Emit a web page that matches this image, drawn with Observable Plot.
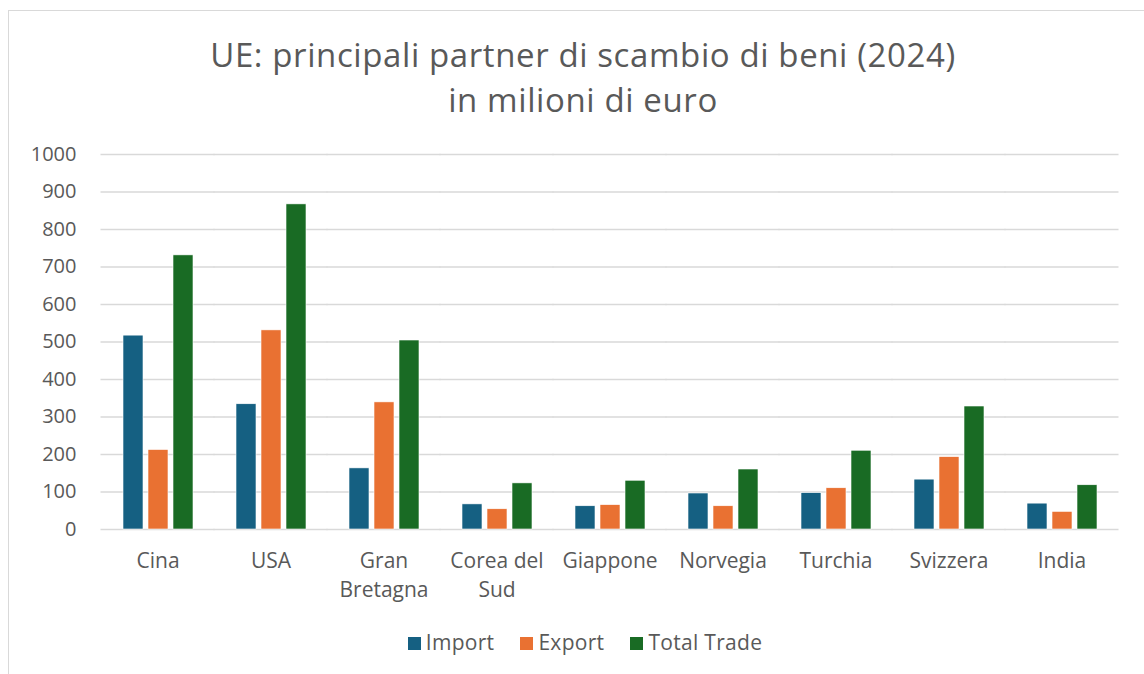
<!DOCTYPE html>
<html>
<head>
<meta charset="utf-8">
<script src="https://cdn.jsdelivr.net/npm/d3@7"></script>
<script src="https://cdn.jsdelivr.net/npm/@observablehq/plot@0.6"></script>
<style>
  html, body { margin: 0; padding: 0; background: #fff; width: 1144px; height: 674px; overflow: hidden; }
  body { position: relative; font-family: "Open Sans", sans-serif; color: #595959; }
  #frame { position: absolute; left: 8px; top: 10px; width: 1200px; height: 700px; border: 1.5px solid #d9d9d9; box-sizing: border-box; }
  #title { position: absolute; left: 0; top: 32px; width: 1166px; text-align: center; font-size: 33px; letter-spacing: 0.6px; line-height: 45px; color: #595959; }
  #chart { position: absolute; left: 0; top: 140px; }
  #legend { position: absolute; left: 0; top: 628px; width: 1170px; text-align: center; font-size: 21px; letter-spacing: 0.3px; color: #595959; }
  .item { display: inline-block; margin: 0 13px; }
  .sw { display: inline-block; width: 13px; height: 13px; margin-right: 5px; vertical-align: 0px; }
</style>
</head>
<body>
<div id="frame"></div>
<div id="title">UE: principali partner di scambio di beni (2024)<br>in milioni di euro</div>
<div id="chart"></div>
<div id="legend"></div>
<script>
const countries = ["Cina", "USA", "Gran Bretagna", "Corea del Sud", "Giappone", "Norvegia", "Turchia", "Svizzera", "India"];
const countryLabels = ["Cina", "USA", "Gran\nBretagna", "Corea del\nSud", "Giappone", "Norvegia", "Turchia", "Svizzera", "India"];
const seriesNames = ["Import", "Export", "Total Trade"];
const importVals = [517, 334, 163, 67, 62, 96, 97, 133, 69];
const exportVals = [212, 531, 339, 54, 65, 62, 110, 193, 47];
const totalVals = [731, 867, 504, 123, 130, 160, 210, 328, 118];
const seriesColors = ["#156082", "#E97132", "#196B24"];
const yTicks = [0, 100, 200, 300, 400, 500, 600, 700, 800, 900, 1000];

const seriesValues = [importVals, exportVals, totalVals];
const data = [];
countries.forEach((c, i) => {
  seriesNames.forEach((s, j) => {
    data.push({country: c, series: s, value: seriesValues[j][i]});
  });
});
const labelOf = new Map(countries.map((c, i) => [c, countryLabels[i]]));

const chart = Plot.plot({
  width: 1144,
  height: 480,
  marginTop: 14,
  marginBottom: 91,
  marginLeft: 100,
  marginRight: 24,
  style: {fontFamily: "'Open Sans', sans-serif", fontSize: "20px", color: "#595959", background: "transparent"},
  fx: {domain: countries, paddingInner: 0.37, paddingOuter: 0.185, label: null, axis: null},
  x: {domain: seriesNames, paddingInner: 0.21, paddingOuter: 0, axis: null},
  y: {domain: [0, 1000], label: null, axis: null},
  color: {domain: seriesNames, range: seriesColors},
  marks: [
    Plot.ruleY(yTicks, {stroke: "#d9d9d9", strokeWidth: 1.4, insetLeft: -21.5, insetRight: -21.5}),
    Plot.barY(data, {fx: "country", x: "series", y: "value", fill: "series", stroke: "white", strokeWidth: 0.6}),
    Plot.axisY(yTicks, {tickSize: 0, tickPadding: 46, fill: "#595959", fontSize: 20, label: null, tickFormat: d => String(d)}),
    Plot.axisFx({anchor: "bottom", tickSize: 0, tickPadding: 18, fill: "#595959", fontSize: 21, lineHeight: 1.38, label: null, tickFormat: d => labelOf.get(d)})
  ]
});
document.getElementById("chart").appendChild(chart);

const legend = document.getElementById("legend");
seriesNames.forEach((s, i) => {
  const item = document.createElement("span");
  item.className = "item";
  const sw = document.createElement("span");
  sw.className = "sw";
  sw.style.background = seriesColors[i];
  item.appendChild(sw);
  item.appendChild(document.createTextNode(s));
  legend.appendChild(item);
});
</script>
</body>
</html>
